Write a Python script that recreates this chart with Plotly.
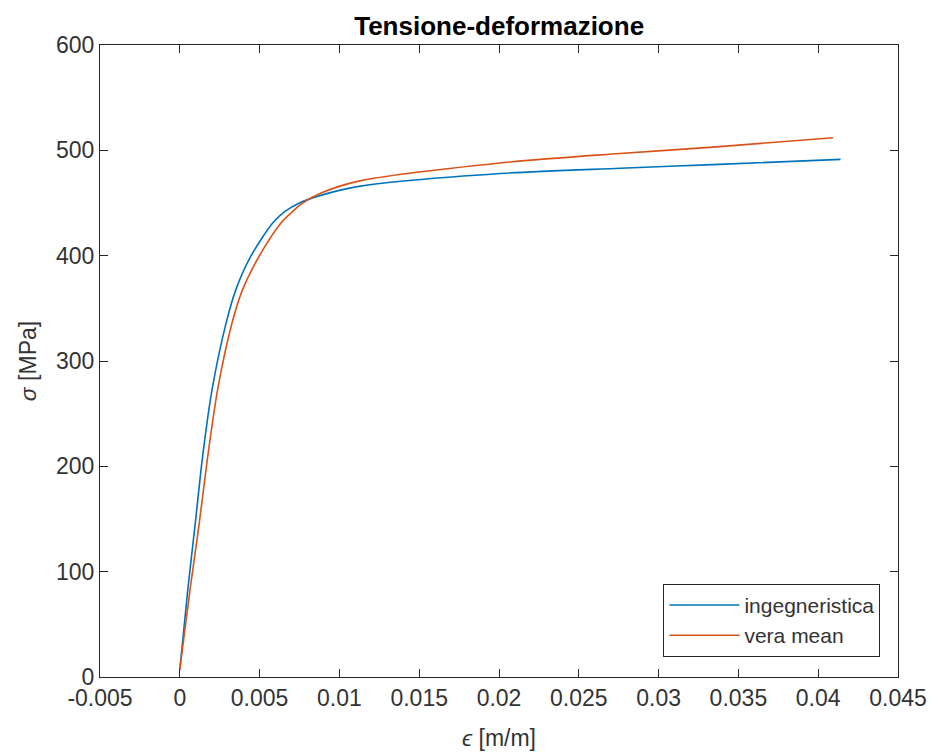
import plotly.graph_objects as go

# Engineering curve (ingegneristica)
eps_eng = [0, 0.0005, 0.00097, 0.00143, 0.00202, 0.0029, 0.00352, 0.00446, 0.00582,
           0.00659, 0.0075, 0.00878, 0.0113, 0.0201, 0.0276, 0.0338, 0.0414]
sig_eng = [7, 82.7, 146, 209.4, 272.8, 336, 368, 399.7, 431,
           442, 450, 457, 466, 478, 483, 486.7, 491.4]

# True curve (vera mean)
eps_true = [0, 0.00064, 0.00122, 0.00175, 0.00237, 0.00327, 0.00394, 0.00498, 0.00634,
            0.007, 0.0076, 0.00878, 0.01128, 0.02006, 0.02757, 0.03384, 0.04094]
sig_true = [7, 82.7, 146, 209.4, 272.8, 336, 368, 399.7, 431,
            441, 449, 459, 471, 488, 497, 503.5, 512]

x_ticks = [-0.005, 0, 0.005, 0.01, 0.015, 0.02, 0.025, 0.03, 0.035, 0.04, 0.045]
x_ticktext = ["-0.005", "0", "0.005", "0.01", "0.015", "0.02", "0.025", "0.03", "0.035", "0.04", "0.045"]
y_ticks = [0, 100, 200, 300, 400, 500, 600]

FONT = "Liberation Sans, Arial, Helvetica, sans-serif"
AX = "#262626"
TXT = "#333333"

fig = go.Figure()
fig.add_trace(go.Scatter(x=eps_eng, y=sig_eng, mode="lines", name="ingegneristica",
                         line=dict(color="#0072BD", width=1.6, shape="spline", smoothing=0.8)))
fig.add_trace(go.Scatter(x=eps_true, y=sig_true, mode="lines", name="vera mean",
                         line=dict(color="#D95319", width=1.6, shape="spline", smoothing=0.8)))

axis_common = dict(showline=True, linecolor=AX, linewidth=1, mirror="ticks",
                   ticks="inside", ticklen=8, tickcolor=AX, tickwidth=1,
                   showgrid=False, zeroline=False, automargin=False,
                   tickfont=dict(family=FONT, size=23, color=TXT))

fig.update_xaxes(range=[-0.005, 0.045], tickvals=x_ticks, ticktext=x_ticktext,
                 title=dict(text="<i>ϵ</i> [m/m]", font=dict(family=FONT, size=23, color=TXT), standoff=20),
                 **axis_common)
fig.update_yaxes(range=[0, 600], tickvals=y_ticks,
                 title=dict(text="<i>σ</i> [MPa]", font=dict(family=FONT, size=23, color=TXT), standoff=12),
                 **axis_common)

fig.update_layout(
    width=933, height=753,
    margin=dict(l=100, r=35, t=45, b=76),
    paper_bgcolor="white", plot_bgcolor="white",
    title=dict(text="<b>Tensione-deformazione</b>", x=0.535, xanchor="center", y=0.966, yanchor="middle",
               font=dict(family=FONT, size=26, color="black")),
    legend=dict(x=0.978, y=0.032, xanchor="right", yanchor="bottom",
                bgcolor="white", bordercolor=AX, borderwidth=1, itemwidth=70,
                font=dict(family=FONT, size=21, color=TXT), tracegroupgap=0),
    showlegend=True,
)

fig.write_html("out.html")
